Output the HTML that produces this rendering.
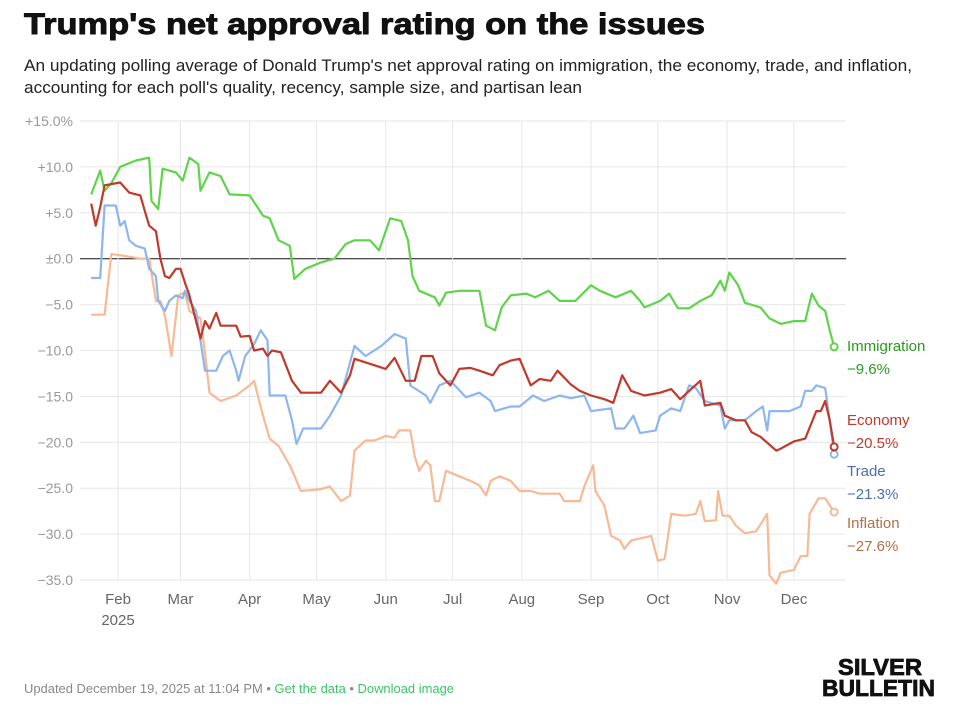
<!DOCTYPE html>
<html><head><meta charset="utf-8"><style>
html,body{margin:0;padding:0;background:#fff;}
svg{display:block;font-family:"Liberation Sans",sans-serif;}
</style></head><body>
<svg id="chart" width="954" height="720" viewBox="0 0 954 720" xmlns="http://www.w3.org/2000/svg">
<text x="24" y="34" font-size="30" font-weight="bold" textLength="681" lengthAdjust="spacingAndGlyphs" fill="#111" stroke="#111" stroke-width="0.9">Trump's net approval rating on the issues</text>
<text x="24" y="71" font-size="17" textLength="888" lengthAdjust="spacingAndGlyphs" fill="#222">An updating polling average of Donald Trump's net approval rating on immigration, the economy, trade, and inflation,</text>
<text x="24" y="93" font-size="17" textLength="558" lengthAdjust="spacingAndGlyphs" fill="#222">accounting for each poll's quality, recency, sample size, and partisan lean</text>
<g id="grid"></g>
<g id="series"></g>
<g id="labels"></g>
<text x="24" y="693" font-size="13" textLength="430" lengthAdjust="spacingAndGlyphs" fill="#888">Updated December 19, 2025 at 11:04 PM • <tspan fill="#3cc46a">Get the data</tspan> • <tspan fill="#3cc46a">Download image</tspan></text>
<text x="838" y="675" font-size="23" font-weight="bold" textLength="84" lengthAdjust="spacingAndGlyphs" fill="#111" stroke="#111" stroke-width="0.8">SILVER</text>
<text x="822" y="696" font-size="23" font-weight="bold" textLength="113" lengthAdjust="spacingAndGlyphs" fill="#111" stroke="#111" stroke-width="0.8">BULLETIN</text>
</svg>
<script>
const yTicks=[15,10,5,0,-5,-10,-15,-20,-25,-30,-35];
const yTickLabels=["+15.0%","+10.0","+5.0","±0.0","−5.0","−10.0","−15.0","−20.0","−25.0","−30.0","−35.0"];
const monthDays=[31,59,90,120,151,181,212,243,273,304,334];
const monthLabels=["Feb","Mar","Apr","May","Jun","Jul","Aug","Sep","Oct","Nov","Dec"];
const immigrationDays=[19,23,25,28,32,39,45,46,49,51,57,60,63,67,68,72,77,81,90,96,99,103,108,110,115,122,128,133,137,144,148,153,158,161,163,166,173,175,178,184,193,196,200,203,207,214,218,224,229,236,243,247,254,261,265,267,274,278,282,287,292,297,301,303,305,309,312,319,323,328,334,339,342,345,348,350,352];
const immigrationValues=[7,9.6,7.4,8.2,10,10.7,11,6.3,5.4,9.8,9.4,8.5,11,10.3,7.4,9.4,9,7,6.9,4.7,4.4,2,1.4,-2.2,-1.1,-0.4,0,1.6,2,2,0.9,4.4,4.1,2,-1.9,-3.5,-4.2,-5.1,-3.7,-3.5,-3.5,-7.3,-7.8,-5.3,-4,-3.8,-4.2,-3.5,-4.6,-4.6,-2.9,-3.5,-4.2,-3.5,-4.6,-5.3,-4.6,-3.8,-5.4,-5.4,-4.6,-4,-2.4,-3.5,-1.5,-2.9,-4.8,-5.3,-6.5,-7.1,-6.8,-6.8,-3.8,-5.1,-5.7,-7.8,-9.6];
const economyDays=[19,21,23,25,32,36,41,43,45,48,50,52,54,57,59,61,63,68,70,72,75,77,81,84,86,90,92,96,98,100,104,109,113,122,126,131,135,137,142,151,155,160,164,167,172,175,180,184,189,193,199,202,207,211,216,220,225,228,234,238,243,249,253,257,261,267,274,279,283,287,292,294,301,303,308,312,315,319,326,328,334,339,344,346,348,350,352];
const economyValues=[6,3.6,5.6,8,8.3,7.2,6.9,5.2,3.6,3,0,-1.9,-2.1,-1.1,-1.1,-2.6,-4,-8.7,-6.8,-7.6,-5.9,-7.3,-7.3,-7.3,-8.5,-8.4,-10,-9.8,-10.6,-10,-10.2,-13.3,-14.6,-14.6,-13.3,-14.6,-12.7,-10.9,-11.3,-12,-10.8,-13.3,-13.3,-10.6,-10.6,-12.5,-13.8,-12,-11.9,-12.2,-12.7,-11.6,-11.1,-10.9,-13.8,-13.1,-13.3,-12.2,-13.7,-14.4,-14.9,-15.3,-15.7,-12.7,-14.4,-14.9,-14.6,-14.2,-15.3,-14.4,-13.3,-16,-15.7,-17.1,-17.6,-17.6,-18.9,-19.4,-20.9,-20.7,-19.9,-19.6,-16.6,-16.6,-15.5,-17.6,-20.5];
const tradeDays=[19,23,25,30,32,34,36,39,43,45,48,49,52,54,57,60,61,63,66,68,70,75,78,81,84,85,88,92,95,98,99,106,109,111,114,122,126,131,137,142,149,155,160,162,169,171,175,180,187,193,198,200,207,211,217,222,229,234,240,243,252,254,258,262,265,272,274,279,283,287,290,294,301,303,305,312,317,320,322,323,328,332,337,339,342,344,348,350,352];
const tradeValues=[-2.1,-2.1,5.8,5.8,3.6,4.1,2,1.4,1.1,-1.1,-1.9,-4.6,-5.7,-4.6,-4,-4.3,-3.5,-4.6,-5.7,-8.9,-12.2,-12.2,-10.6,-10,-12.2,-13.3,-10.6,-9.3,-7.8,-8.9,-14.9,-14.9,-17.6,-20.2,-18.5,-18.5,-17.1,-14.9,-9.5,-10.6,-9.5,-8.2,-8.7,-13.8,-14.9,-15.7,-13.8,-13.3,-15.1,-14.6,-15.5,-16.6,-16.1,-16.1,-14.9,-15.5,-14.9,-15.2,-14.9,-16.6,-16.3,-18.5,-18.5,-17.1,-19,-18.7,-17.1,-16.3,-16.6,-13.8,-14.1,-15.5,-16,-18.5,-17.6,-17.6,-16.6,-16.1,-18.7,-16.6,-16.6,-16.6,-16.1,-14.4,-14.4,-13.8,-14.1,-17.6,-21.3];
const inflationDays=[19,25,28,34,41,45,48,50,52,55,58,61,63,68,70,72,77,84,90,92,96,99,103,108,113,122,126,131,135,137,142,146,151,155,157,162,164,166,169,171,173,175,178,184,189,193,196,198,202,207,211,216,220,229,231,238,240,244,245,249,252,256,258,261,270,273,276,279,285,290,292,294,299,300,302,305,308,312,317,322,323,326,328,334,337,340,341,345,348,352];
const inflationValues=[-6.1,-6.1,0.5,0.3,0,0,-4.6,-4.6,-6.2,-10.6,-4,-3.7,-5.7,-6.5,-10.3,-14.6,-15.5,-14.9,-13.8,-13.3,-17.1,-19.6,-20.4,-22.5,-25.3,-25.1,-24.8,-26.4,-25.8,-20.9,-19.8,-19.8,-19.3,-19.5,-18.7,-18.7,-21.5,-23.1,-22,-22.5,-26.4,-26.4,-23.1,-23.7,-24.2,-24.7,-25.8,-24.2,-23.7,-24.2,-25.3,-25.3,-25.6,-25.6,-26.4,-26.4,-24.8,-22.5,-25.3,-26.9,-30.2,-30.7,-31.6,-30.7,-30.2,-32.9,-32.7,-27.8,-28,-27.8,-26.4,-28.6,-28.5,-25.3,-28,-28,-29.1,-29.9,-29.7,-27.8,-34.5,-35.4,-34.2,-33.9,-32.4,-32.4,-27.8,-26.1,-26.1,-27.6];

const NS="http://www.w3.org/2000/svg";
const x0=80,x1=846,yTop=121,yBot=580;
function xScale(d){return 118+(d-31)*(794-118)/(334-31);}
function yScale(v){return yTop+(15-v)*(yBot-yTop)/50;}
function mk(tag,attrs,parent){const e=document.createElementNS(NS,tag);for(const k in attrs)e.setAttribute(k,attrs[k]);parent.appendChild(e);return e;}
const grid=document.getElementById('grid');
yTicks.forEach((t,i)=>{
  const y=yScale(t);
  const ln=mk('line',{x1:x0,x2:x1,y1:y,y2:y,stroke:t===0?'#111':'#e6e6e6','stroke-width':1},grid);
  
  
  const tx=mk('text',{x:73,y:y+5,'text-anchor':'end','font-size':14,fill:'#999'},grid);
  
  
  tx.textContent=yTickLabels[i];
});
monthDays.forEach((d,i)=>{
  const x=xScale(d);
  const ln=mk('line',{x1:x,x2:x,y1:yTop,y2:yBot,stroke:'#e6e6e6','stroke-width':1},grid);
  
  
  const tx=mk('text',{x:x,y:604,'text-anchor':'middle','font-size':15,fill:'#666'},grid);
  
  
  tx.textContent=monthLabels[i];
});
const yr=mk('text',{x:xScale(monthDays[0]),y:625,'text-anchor':'middle','font-size':15,fill:'#666'},grid);


yr.textContent='2025';

const seriesG=document.getElementById('series');
const labelsG=document.getElementById('labels');
const series=[
 {name:'inflation',label:'Inflation',days:inflationDays,vals:inflationValues,color:'#f8b995',text:'#b0704a',ly:523},
 {name:'trade',label:'Trade',days:tradeDays,vals:tradeValues,color:'#8db6f0',text:'#4a70b0',ly:471},
 {name:'immigration',label:'Immigration',days:immigrationDays,vals:immigrationValues,color:'#5fd44b',text:'#2a9a1e',ly:346},
 {name:'economy',label:'Economy',days:economyDays,vals:economyValues,color:'#c0392b',text:'#c0392b',ly:420}
];
series.forEach(s=>{
  const d=s.days.map((dd,i)=>(i?'L':'M')+xScale(dd).toFixed(1)+','+yScale(s.vals[i]).toFixed(1)).join('');
  const p=mk('path',{d:d,fill:'none',stroke:s.color,'stroke-width':2.2,'stroke-linejoin':'round'},seriesG);
  
  
  const n=s.vals.length-1;
  const c=mk('circle',{cx:xScale(s.days[n]),cy:yScale(s.vals[n]),r:3.5,fill:'#fff',stroke:s.color,'stroke-width':2},seriesG);
  
  
  const t1=mk('text',{x:847,y:s.ly+5,'font-size':15,fill:s.text},labelsG);
  
  
  t1.textContent=s.label;
  const t2=mk('text',{x:847,y:s.ly+28,'font-size':15,fill:s.text},labelsG);
  
  
  t2.textContent='−'+Math.abs(s.vals[n]).toFixed(1)+'%';
});
</script>
</body></html>
